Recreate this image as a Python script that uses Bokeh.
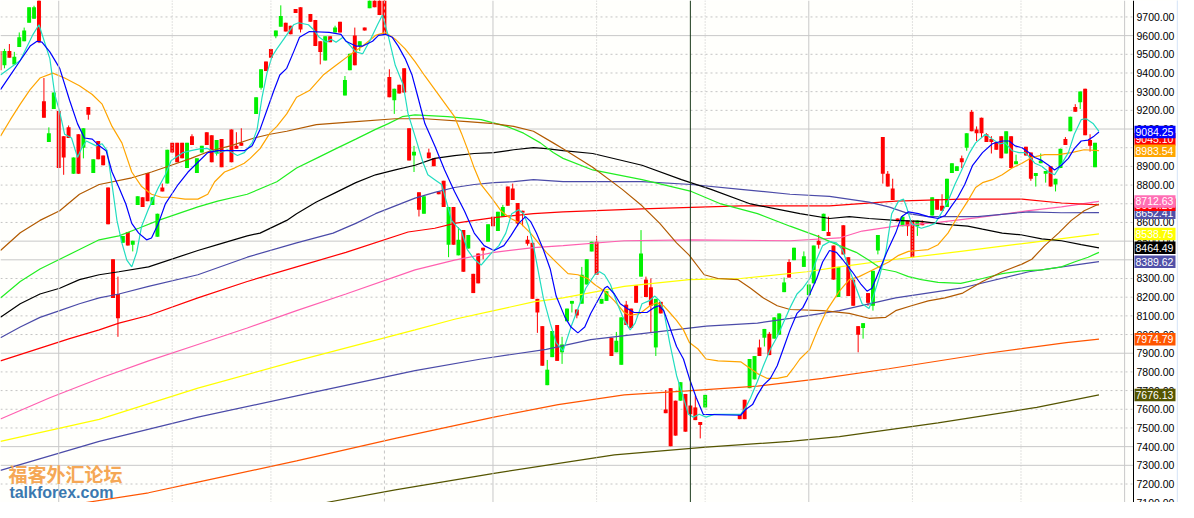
from bokeh.plotting import figure
from bokeh.models import Range1d, Span, Label, ColumnDataSource
from bokeh.core.properties import value
from bokeh.embed import file_html
from bokeh.resources import INLINE

# ---------------- candle data (day index, O/H/L/C) ----------------
day = (list(range(-1, 45)) + [46, 47, 48] + list(range(51, 61)) + list(range(62, 143))
       + list(range(149, 161)) + list(range(162, 187)) + list(range(188, 206)) + list(range(207, 222)))

open_ = [9518, 9441, 9518, 9446, 9539, 9570, 9669, 9690, 9800, 9249,
         9031, 9207, 9197, 9062, 9109, 8860, 9072, 9000, 9218, 8865,
         9036, 8958, 8787, 8403, 8217, 8491, 8549, 8481, 8694, 8735,
         8865, 8694, 8523, 8787, 8808, 9026, 9026, 9026, 8891, 9062,
         8865, 8974, 9083, 9067, 8969, 9046,
         9098, 9010, 9026, 9181, 9321, 9461, 9529, 9596, 9648, 9669,
         9653, 9742, 9752, 9716, 9684, 9570, 9467, 9596, 9617, 9674,
         9280, 9415, 9601, 9544, 9643, 9747, 9795, 9795, 9790, 9378,
         9254, 9337, 9425, 9104, 8958, 8761, 8647, 8974, 8943, 8766,
         8823, 8481, 8683, 8424, 8559, 8460, 8325, 8434, 8465, 8497,
         8631, 8554, 8631, 8792, 8782, 8704, 8663, 8507, 8491, 8191,
         8045, 7729, 7879, 8051, 7905, 8071, 8165, 8134, 8165, 8268,
         8445, 8497, 8165, 8180, 7983, 7905, 7838, 8160, 8139, 8263,
         8310, 8294, 8253, 7931, 8175, 7599, 7713, 7646, 7646, 7682,
         7620, 7610, 7532, 7610,
         7573, 7651, 7713, 7760, 7931, 7983, 8004, 7978, 7999, 8227,
         8388, 8398, 8362, 8211, 8274, 8502, 8554, 8549, 8476, 8201,
         8585, 8414, 8294, 8045, 8035, 8222, 8154, 8450, 9057, 8860,
         8782, 8621, 8580, 8611, 8611, 8580, 8600,
         8637, 8725, 8689, 8683, 8865, 8875, 8943, 9000, 9192, 9098,
         9161, 9072, 9046, 9031, 9062, 8969, 9062, 8912,
         9005, 8974, 8849, 8917, 8860, 8901, 8803, 8891, 9046, 9088,
         9218, 9244, 9316, 9041, 8896]

high = [9529, 9529, 9555, 9513, 9617, 9643, 9752, 9760, 9810, 9373,
        9109, 9295, 9197, 9062, 9119, 8948, 9072, 9104, 9218, 8938,
        9036, 8958, 8787, 8403, 8310, 8528, 8549, 8502, 8740, 8735,
        8865, 8735, 8647, 8808, 8989, 9026, 9026, 9026, 9026, 9072,
        8943, 9010, 9083, 9067, 9041, 9046,
        9098, 9083, 9104, 9270, 9420, 9461, 9529, 9627, 9762, 9669,
        9653, 9742, 9752, 9716, 9684, 9570, 9596, 9596, 9653, 9674,
        9384, 9503, 9643, 9570, 9643, 9790, 9800, 9800, 9800, 9420,
        9316, 9337, 9425, 9104, 9010, 8761, 8740, 8995, 8943, 8766,
        8823, 8683, 8683, 8574, 8559, 8533, 8325, 8434, 8465, 8590,
        8631, 8657, 8694, 8792, 8808, 8704, 8663, 8528, 8491, 8191,
        8045, 7864, 8019, 8051, 7988, 8139, 8180, 8134, 8362, 8403,
        8497, 8528, 8191, 8232, 7983, 8014, 8092, 8180, 8139, 8263,
        8559, 8310, 8300, 8191, 8175, 7703, 7713, 7646, 7745, 7682,
        7620, 7672, 7532, 7677,
        7573, 7651, 7869, 7885, 7973, 8030, 8014, 8092, 8113, 8305,
        8403, 8465, 8445, 8268, 8476, 8533, 8647, 8631, 8476, 8362,
        8585, 8414, 8294, 8045, 8061, 8222, 8341, 8533, 9057, 8875,
        8834, 8621, 8637, 8611, 8611, 8611, 8611,
        8735, 8725, 8751, 8834, 8917, 8901, 8958, 9078, 9202, 9114,
        9161, 9078, 9062, 9031, 9062, 9088, 9062, 8963,
        9005, 8974, 8865, 8969, 8875, 8901, 8834, 8995, 9057, 9166,
        9233, 9301, 9316, 9072, 9026]

low = [9404, 9425, 9482, 9446, 9539, 9570, 9669, 9690, 9560, 9161,
       9031, 9207, 8891, 8855, 9052, 8860, 8860, 8943, 9150, 8865,
       8938, 8906, 8590, 8196, 7988, 8491, 8476, 8445, 8694, 8683,
       8714, 8694, 8523, 8766, 8808, 8974, 8922, 8943, 8891, 9015,
       8865, 8974, 9015, 8922, 8958, 8896,
       8922, 8995, 9010, 9181, 9311, 9410, 9482, 9586, 9648, 9622,
       9607, 9721, 9617, 9674, 9544, 9446, 9467, 9565, 9617, 9617,
       9280, 9415, 9441, 9518, 9627, 9747, 9752, 9710, 9607, 9270,
       9181, 9290, 9295, 8932, 8870, 8632, 8647, 8943, 8901, 8751,
       8683, 8414, 8481, 8424, 8336, 8460, 8222, 8274, 8403, 8497,
       8580, 8554, 8631, 8689, 8720, 8580, 8580, 8476, 8191, 8009,
       7833, 7729, 7879, 7859, 7843, 8071, 8118, 8087, 8165, 8268,
       8445, 8320, 8165, 8180, 7885, 7905, 7838, 8051, 8035, 8170,
       8310, 8201, 8009, 7885, 8113, 7579, 7402, 7459, 7646, 7480,
       7573, 7542, 7444, 7610,
       7547, 7547, 7713, 7760, 7885, 7936, 7890, 7978, 7999, 8227,
       8305, 8398, 8362, 8211, 8274, 8460, 8554, 8528, 8294, 8201,
       8429, 8206, 8154, 7905, 7978, 8154, 8128, 8429, 8808, 8792,
       8720, 8606, 8580, 8528, 8414, 8528, 8585,
       8637, 8668, 8663, 8683, 8865, 8875, 8891, 8984, 9088, 9036,
       9052, 9031, 8969, 8989, 8943, 8969, 8891, 8912,
       8958, 8823, 8792, 8917, 8813, 8792, 8766, 8891, 9015, 9088,
       9192, 9207, 9067, 8979, 8896]

close = [9415, 9518, 9482, 9487, 9591, 9627, 9752, 9752, 9565, 9161,
         9078, 9295, 8891, 8948, 9052, 8948, 8860, 9104, 9176, 8938,
         8938, 8906, 8590, 8196, 8087, 8528, 8476, 8502, 8740, 8683,
         8714, 8735, 8647, 8766, 8989, 8974, 8922, 8943, 9026, 9015,
         8943, 9010, 9015, 8922, 9041, 8896,
         8922, 8995, 9010, 9270, 9420, 9410, 9482, 9627, 9705, 9622,
         9607, 9721, 9633, 9674, 9544, 9513, 9596, 9565, 9643, 9617,
         9363, 9503, 9441, 9570, 9627, 9788, 9752, 9710, 9607, 9270,
         9316, 9290, 9295, 8932, 8979, 8668, 8740, 8943, 8901, 8751,
         8683, 8683, 8481, 8507, 8336, 8533, 8222, 8274, 8450, 8590,
         8580, 8657, 8683, 8689, 8720, 8595, 8652, 8486, 8191, 8118,
         7833, 7812, 8019, 7859, 7947, 8139, 8180, 8102, 8320, 8403,
         8497, 8320, 8191, 8232, 7885, 7967, 8092, 8051, 8035, 8170,
         8434, 8201, 8154, 8191, 8113, 7579, 7402, 7459, 7745, 7480,
         7573, 7542, 7516, 7677,
         7547, 7547, 7869, 7885, 7885, 8030, 7890, 8092, 8113, 8279,
         8305, 8465, 8419, 8268, 8476, 8481, 8647, 8528, 8294, 8362,
         8429, 8206, 8154, 7999, 8061, 8170, 8341, 8533, 8860, 8792,
         8720, 8606, 8631, 8580, 8414, 8611, 8585,
         8735, 8668, 8663, 8834, 8917, 8901, 8922, 9078, 9088, 9078,
         9078, 9031, 9031, 8989, 8943, 9088, 8891, 8927,
         8958, 8834, 8865, 8932, 8875, 8792, 8834, 8995, 9015, 9166,
         9192, 9301, 9067, 9010, 9026]

# ---------------- moving average lines (day, value) ----------------
ma_cyan_day = [-0.8, 3.2, 5.8, 7.0, 9.2, 10.2, 11.2, 12.2, 13.6, 14.8,
               15.6, 16.6, 18.6, 19.8, 20.8, 21.8, 22.8, 23.8, 24.8, 25.8,
               26.8, 27.8, 29.2, 31.2, 32.6, 33.8, 36.2, 37.8, 39.8, 41.2,
               43.2, 45.2, 47.2, 48.6, 50.2, 51.2, 52.2, 53.2, 54.2, 55.2,
               56.6, 58.6, 59.6, 61.6, 62.6, 63.8, 65.2, 66.2, 67.2, 68.6,
               69.8, 71.2, 72.6, 74.2, 75.6, 76.6, 77.8, 79.2, 80.8, 81.8,
               83.2, 84.8, 85.8, 87.2, 88.6, 89.6, 90.6, 91.6, 92.6, 93.8,
               95.2, 96.6, 97.6, 98.8, 100.2, 101.6, 102.8, 104.2, 105.2, 106.2,
               107.2, 108.2, 109.2, 110.6, 111.8, 113.2, 114.8, 116.6, 117.8, 119.6,
               120.6, 121.6, 122.8, 124.2, 125.6, 126.8, 127.8, 129.2, 130.6, 131.8,
               132.8, 133.6, 134.8, 136.2, 137.6, 138.6, 139.6, 140.8, 142.2, 143.8,
               149.2, 150.2, 151.2, 152.6, 153.8, 155.2, 156.6, 157.8, 159.2, 160.6,
               161.8, 163.2, 164.6, 165.8, 167.2, 168.6, 169.8, 171.2, 172.6, 173.8,
               175.2, 175.8, 177.2, 178.6, 179.8, 181.2, 182.2, 182.8, 183.8, 184.8,
               185.8, 187.2, 188.6, 189.8, 191.2, 192.6, 193.8, 195.6, 196.8, 198.8,
               200.2, 201.6, 202.8, 204.2, 205.6, 206.8, 207.8, 208.8, 210.2, 211.6,
               212.8, 214.2, 215.6, 216.8, 218.2, 219.2, 220.6, 221.8]
ma_cyan_val = [9389, 9467, 9607, 9658, 9477, 9285, 9192, 9072, 9052, 8948,
               8995, 9036, 9010, 9021, 8984, 8803, 8611, 8491, 8398, 8362,
               8440, 8580, 8673, 8787, 8855, 8932, 8974, 8984, 8995, 8995,
               8969, 8989, 8958, 8974, 9026, 9098, 9270, 9399, 9487, 9529,
               9581, 9658, 9669, 9658, 9633, 9591, 9565, 9581, 9565, 9591,
               9555, 9513, 9503, 9581, 9658, 9710, 9596, 9441, 9337, 9181,
               9062, 8922, 8855, 8829, 8803, 8709, 8611, 8580, 8554, 8455,
               8403, 8372, 8403, 8440, 8476, 8543, 8647, 8668, 8647, 8580,
               8476, 8336, 8196, 8061, 7957, 7911, 8040, 8165, 8248, 8320,
               8336, 8320, 8268, 8165, 8076, 8025, 8061, 8165, 8180, 8206,
               8180, 8128, 7957, 7781, 7662, 7573, 7558, 7573, 7558, 7573,
               7573, 7610, 7662, 7750, 7833, 7921, 7988, 8061, 8144, 8217,
               8248, 8300, 8403, 8476, 8497, 8491, 8455, 8351, 8248, 8165,
               8139, 8180, 8300, 8440, 8647, 8714, 8725, 8683, 8595, 8580,
               8569, 8580, 8595, 8647, 8714, 8803, 8870, 8974, 9026, 9072,
               9046, 9021, 9026, 8984, 8974, 8974, 8948, 8917, 8901, 8870,
               8855, 8912, 8974, 9072, 9150, 9155, 9130, 9088]

ma_blue_day = [-0.8, 1.2, 3.2, 5.2, 6.6, 7.6, 9.2, 11.2, 13.2, 14.8,
               16.2, 17.8, 19.2, 20.6, 21.8, 23.2, 24.6, 25.8, 27.2, 28.8,
               29.8, 31.2, 32.6, 35.2, 37.2, 39.2, 41.2, 43.2, 48.6, 50.2,
               51.8, 53.2, 54.6, 55.8, 57.2, 58.6, 59.8, 61.8, 65.8, 68.2,
               69.2, 71.2, 72.6, 74.6, 75.8, 77.2, 78.6, 79.8, 81.2, 82.6,
               83.8, 85.2, 87.2, 89.2, 91.2, 93.2, 95.2, 97.2, 99.2, 101.2,
               102.6, 104.2, 105.6, 106.6, 107.8, 109.2, 110.6, 111.8, 113.6, 114.8,
               116.2, 117.6, 118.8, 120.2, 121.6, 122.2, 123.6, 124.8, 126.2, 127.6,
               130.2, 131.6, 132.6, 133.6, 134.8, 136.2, 137.6, 138.8, 140.2, 141.6,
               149.2, 150.2, 151.6, 152.6, 153.8, 155.2, 156.6, 157.8, 159.2, 160.6,
               161.8, 163.2, 164.6, 165.8, 167.2, 168.6, 169.8, 171.8, 173.6, 174.8,
               175.8, 177.2, 178.8, 180.6, 181.8, 183.2, 185.2, 187.2, 189.2, 190.6,
               191.8, 193.2, 194.6, 196.2, 198.2, 200.2, 202.2, 203.6, 204.8, 206.2,
               207.6, 208.8, 210.2, 211.6, 212.8, 214.2, 215.6, 216.8, 218.2, 219.6,
               220.8, 221.8]
ma_blue_val = [9311, 9389, 9467, 9544, 9570, 9565, 9513, 9425, 9254, 9129,
               9052, 9046, 9010, 8984, 8870, 8787, 8699, 8595, 8543, 8507,
               8517, 8595, 8699, 8803, 8870, 8922, 8974, 8984, 8984, 9010,
               9098, 9202, 9306, 9389, 9425, 9513, 9591, 9622, 9617, 9607,
               9570, 9544, 9544, 9570, 9601, 9607, 9591, 9544, 9477, 9389,
               9270, 9129, 9010, 8881, 8766, 8663, 8543, 8476, 8450, 8476,
               8528, 8595, 8631, 8606, 8543, 8455, 8351, 8206, 8092, 8040,
               8009, 8040, 8113, 8180, 8248, 8258, 8217, 8165, 8139, 8118,
               8118, 8144, 8154, 8128, 8040, 7936, 7869, 7765, 7662, 7573,
               7568, 7599, 7625, 7677, 7729, 7765, 7833, 7921, 8025, 8113,
               8144, 8217, 8300, 8388, 8450, 8440, 8403, 8336, 8268, 8232,
               8248, 8336, 8440, 8543, 8631, 8657, 8647, 8631, 8621, 8637,
               8683, 8735, 8803, 8906, 8974, 9021, 9036, 9036, 9010, 9000,
               8974, 8948, 8932, 8906, 8881, 8906, 8943, 8995, 9036, 9041,
               9062, 9084]

ma_orange_day = [-0.8, 1.2, 3.2, 5.2, 7.2, 9.8, 12.2, 15.2, 17.8, 19.8,
                 21.8, 23.8, 25.8, 27.8, 29.8, 31.8, 33.8, 36.6, 39.2, 41.2,
                 42.6, 44.6, 46.6, 48.6, 49.8, 51.8, 53.8, 55.2, 57.2, 59.2,
                 61.8, 64.6, 67.2, 69.8, 72.6, 75.2, 77.2, 79.2, 81.2, 83.2,
                 85.2, 91.2, 92.6, 93.8, 95.2, 96.6, 98.6, 100.6, 102.6, 104.6,
                 106.6, 108.2, 109.8, 111.8, 114.2, 116.2, 118.2, 119.6, 121.6, 123.6,
                 125.6, 126.8, 128.8, 130.8, 132.2, 133.6, 134.8, 136.2, 137.6, 138.8,
                 140.6, 142.2, 144.6, 149.2, 151.2, 152.6, 154.6, 156.6, 158.6, 159.8,
                 161.2, 163.2, 164.8, 166.6, 169.2, 171.2, 173.2, 175.2, 177.2, 179.2,
                 181.2, 183.2, 185.2, 187.2, 189.2, 191.2, 193.2, 195.2, 196.8, 198.2,
                 200.2, 202.2, 204.2, 206.2, 208.2, 210.8, 213.6, 216.2, 218.8, 221.8]
ma_orange_val = [9062, 9150, 9233, 9311, 9373, 9399, 9373, 9332, 9285, 9233,
                 9114, 9026, 8870, 8792, 8751, 8735, 8735, 8725, 8725, 8751,
                 8818, 8870, 8891, 8917, 8943, 8995, 9078, 9114, 9181, 9270,
                 9306, 9389, 9441, 9493, 9544, 9601, 9617, 9581, 9529, 9461,
                 9384, 9166, 9078, 8995, 8891, 8803, 8735, 8663, 8621, 8595,
                 8543, 8491, 8440, 8388, 8326, 8320, 8300, 8268, 8232, 8180,
                 8118, 8102, 8113, 8154, 8170, 8154, 8118, 8076, 8025, 7957,
                 7921, 7869, 7859, 7854, 7817, 7791, 7765, 7765, 7776, 7817,
                 7869, 7921, 8025, 8128, 8232, 8294, 8310, 8336, 8362, 8388,
                 8424, 8445, 8450, 8455, 8481, 8543, 8632, 8714, 8787, 8813,
                 8829, 8855, 8891, 8917, 8948, 8963, 8963, 8974, 8989, 8984]

ma_brown_day = [-0.8, 3.2, 7.2, 11.2, 15.2, 19.2, 25.8, 29.8, 33.8, 37.8,
                41.8, 45.8, 50.6, 53.8, 57.2, 63.2, 71.2, 79.2, 85.2, 93.8,
                99.2, 103.2, 107.2, 111.2, 113.2, 119.2, 125.2, 129.2, 132.8, 136.2,
                138.8, 141.8, 144.6, 148.6, 151.2, 153.8, 156.6, 159.2, 165.8, 171.2,
                175.2, 178.6, 180.6, 183.8, 187.2, 190.6, 194.2, 198.2, 202.2, 206.2,
                208.2, 210.8, 213.6, 216.2, 218.8, 221.8]
ma_brown_val = [8450, 8545, 8611, 8663, 8751, 8803, 8839, 8870, 8906, 8943,
                8984, 9010, 9052, 9072, 9088, 9124, 9140, 9155, 9155, 9140,
                9129, 9114, 9088, 9026, 8995, 8896, 8777, 8689, 8595, 8491,
                8424, 8320, 8300, 8294, 8248, 8196, 8154, 8134, 8128, 8113,
                8087, 8092, 8128, 8154, 8180, 8196, 8222, 8284, 8336, 8377,
                8403, 8476, 8543, 8611, 8663, 8699]

ma_green_day = [-0.8, 3.2, 7.2, 11.2, 15.2, 19.2, 23.2, 27.2, 31.2, 35.2,
                39.2, 43.2, 49.2, 55.2, 59.2, 63.2, 67.2, 71.2, 75.2, 77.8,
                80.6, 83.2, 89.8, 96.6, 101.8, 105.2, 108.6, 111.2, 113.2, 119.2,
                129.2, 139.2, 145.2, 152.6, 159.2, 164.6, 169.2, 172.6, 175.2, 177.8,
                180.6, 183.2, 185.8, 189.2, 193.8, 198.2, 202.2, 206.2, 210.2, 214.2,
                216.8, 219.6, 221.8]
ma_green_val = [8196, 8284, 8351, 8403, 8455, 8507, 8528, 8569, 8611, 8647,
                8683, 8714, 8751, 8818, 8891, 8943, 8995, 9046, 9098, 9129,
                9166, 9176, 9166, 9150, 9114, 9078, 9026, 8974, 8943, 8881,
                8829, 8766, 8699, 8647, 8580, 8528, 8476, 8440, 8398, 8351,
                8336, 8310, 8294, 8279, 8274, 8300, 8326, 8341, 8346, 8362,
                8388, 8414, 8440]

ma_black_day = [-0.8, 3.2, 7.2, 11.2, 15.2, 19.2, 23.2, 29.2, 39.2, 43.2,
                49.2, 51.8, 57.2, 59.2, 63.2, 67.2, 71.2, 75.2, 79.2, 83.2,
                87.2, 91.2, 95.2, 99.2, 103.2, 107.2, 109.8, 113.2, 119.2, 129.2,
                137.2, 143.2, 151.2, 161.2, 167.2, 171.2, 175.2, 180.6, 185.8, 190.6,
                195.2, 198.2, 202.2, 206.2, 210.2, 214.2, 218.2, 221.8]
ma_black_val = [8092, 8165, 8217, 8248, 8294, 8320, 8336, 8362, 8450, 8481,
                8528, 8543, 8611, 8647, 8709, 8761, 8813, 8855, 8881, 8906,
                8943, 8958, 8969, 8974, 8989, 9000, 8995, 8984, 8969, 8906,
                8829, 8777, 8699, 8647, 8621, 8631, 8621, 8611, 8606, 8590,
                8580, 8564, 8543, 8533, 8512, 8502, 8481, 8464]

ma_slate_day = [-0.8, 3.2, 7.2, 11.2, 15.2, 19.2, 23.2, 29.2, 39.2, 49.2,
                59.2, 66.6, 71.2, 75.2, 79.2, 83.2, 87.2, 91.2, 95.2, 99.2,
                103.2, 107.2, 113.2, 129.2, 139.2, 149.2, 159.2, 167.2, 175.2, 179.2,
                183.2, 187.2, 197.2, 207.6, 214.2, 221.8]
ma_slate_val = [7983, 8040, 8092, 8128, 8165, 8196, 8217, 8258, 8320, 8414,
                8491, 8543, 8595, 8647, 8689, 8730, 8761, 8787, 8803, 8813,
                8818, 8829, 8818, 8818, 8803, 8777, 8751, 8740, 8709, 8683,
                8647, 8631, 8631, 8657, 8652, 8653]

ma_red_day = [-0.8, 13.2, 19.2, 23.2, 29.2, 39.2, 49.2, 59.2, 69.2, 81.8,
              87.2, 91.2, 95.2, 99.2, 103.2, 107.2, 113.2, 129.2, 149.2, 167.2,
              180.6, 193.8, 206.2, 214.2, 221.8]
ma_red_val = [7859, 7978, 8025, 8061, 8102, 8196, 8284, 8362, 8440, 8549,
              8569, 8595, 8611, 8626, 8637, 8647, 8657, 8673, 8689, 8689,
              8714, 8725, 8725, 8704, 8694]

ma_pink_day = [-0.8, 9.2, 19.2, 29.2, 39.2, 49.2, 59.2, 69.2, 83.2, 91.2,
               99.2, 107.2, 113.2, 125.6, 139.2, 159.2, 169.2, 173.8, 180.6, 189.2,
               197.2, 207.6, 214.2, 221.8]
ma_pink_val = [7548, 7662, 7765, 7859, 7947, 8035, 8128, 8217, 8346, 8398,
               8440, 8465, 8476, 8502, 8507, 8502, 8517, 8554, 8580, 8600,
               8626, 8663, 8683, 8713]

ma_yellow_day = [-0.8, 19.2, 39.2, 59.2, 83.2, 91.2, 99.2, 107.2, 113.2, 125.6,
                 138.8, 149.2, 162.6, 169.2, 180.6, 193.8, 207.6, 221.8]
ma_yellow_val = [7428, 7546, 7713, 7859, 8025, 8082, 8128, 8175, 8196, 8258,
                 8294, 8300, 8336, 8362, 8403, 8445, 8491, 8539]

ma_navy_day = [-0.8, 19.2, 39.2, 59.2, 83.2, 96.6, 109.8, 118.8, 132.2, 142.2,
               152.6, 159.2, 169.2, 180.6, 193.8, 207.6, 216.8, 221.8]
ma_navy_val = [7273, 7428, 7558, 7672, 7807, 7869, 7921, 7973, 8014, 8045,
               8061, 8087, 8128, 8196, 8248, 8336, 8372, 8390]

ma_vermilion_day = [-0.8, 17.8, 29.2, 39.2, 59.2, 79.2, 99.2, 112.2, 125.6, 138.4,
                    152.6, 165.8, 179.2, 199.2, 215.2, 221.8]
ma_vermilion_val = [7029, 7106, 7153, 7210, 7324, 7444, 7558, 7625, 7677, 7698,
                    7724, 7765, 7817, 7900, 7957, 7975]

ma_olive_day = [59.2, 65.2, 79.2, 99.2, 123.6, 142.2, 159.2, 169.2, 189.2, 209.2, 221.8]
ma_olive_val = [7070, 7101, 7169, 7257, 7356, 7397, 7428, 7454, 7527, 7610, 7677]

# price scale tick labels
tick_values = list(range(7100, 9800, 100))

# price tags on the scale (value, background)
tag_values = [9045.10, 9084.25, 8983.54, 8652.41, 8694.20, 8712.63, 8538.75, 8464.49, 8389.62, 7974.79, 7676.13]
tag_colors = ["#FF0000", "#0000FF", "#FFA500", "#5050A8", "#FF0000", "#FF6EB4", "#FFFF00", "#000000", "#5050A8", "#FF5500", "#555500"]

# grid markers
vgrid_solid = [11, 99, 163, 227]
vgrid_dotted = [34, 54, 120, 142, 184, 206]
vgrid_dashed = [77]
hgrid_solid = [7300, 7400, 7900, 8400, 8500, 9100, 9600]
cursor_day = 139

assert len(day) == len(open_) == len(high) == len(low) == len(close)

# ---------------- layout ----------------
W, H = 1178, 502
X0, X_AXIS = -0.8, 228.8            # plot area (days) ; the scale sits to the right of X_AXIS
PLOT_PX = 1133                       # pixels of the plot area
X1 = X0 + (X_AXIS - X0) * W / PLOT_PX
Y0, Y1 = 7101, 9788
px_day = PLOT_PX / (X_AXIS - X0)     # pixels per day
px_val = H / (Y1 - Y0)               # pixels per price unit

p = figure(width=W, height=H, x_range=Range1d(X0, X1), y_range=Range1d(Y0, Y1),
           output_backend="svg", toolbar_location=None, x_axis_location=None,
           y_axis_location=None, min_border=0)
p.background_fill_color = "#FFFFFC"
p.border_fill_color = "#FFFFFF"
p.outline_line_color = None
p.xgrid.grid_line_color = None
p.ygrid.grid_line_color = None

# scale panel background
p.quad(left=[X_AXIS], right=[X1], bottom=[Y0], top=[Y1], fill_color="#FFFFFF", line_color=None)

# horizontal grid
dotted = [t for t in tick_values if t not in hgrid_solid]
p.segment(x0=[X0] * len(dotted), x1=[X_AXIS] * len(dotted), y0=dotted, y1=dotted,
          line_color="#C4C4C4", line_width=1, line_dash="2 3")
p.segment(x0=[X0] * len(hgrid_solid), x1=[X_AXIS] * len(hgrid_solid), y0=hgrid_solid, y1=hgrid_solid,
          line_color="#C8C8C8", line_width=1)

# vertical grid
for d in vgrid_solid:
    p.add_layout(Span(location=d, dimension="height", line_color="#C8C8C8", line_width=1))
for d in vgrid_dotted:
    p.add_layout(Span(location=d, dimension="height", line_color="#C4C4C4", line_width=1, line_dash="1 2"))
for d in vgrid_dashed:
    p.add_layout(Span(location=d, dimension="height", line_color="#C4C4C4", line_width=1, line_dash="3 3"))

# candles
top = [max(o, c) for o, c in zip(open_, close)]
bottom = [min(o, c) for o, c in zip(open_, close)]
colors = ["#00F000" if c >= o else "#FF0000" for o, c in zip(open_, close)]
src = ColumnDataSource(dict(day=day, high=high, low=low, top=top, bottom=bottom, color=colors))
p.segment(x0="day", y0="low", x1="day", y1="high", line_color="color", line_width=1, source=src)
p.vbar(x="day", width=0.8, top="top", bottom="bottom", fill_color="color", line_color=None, source=src)

# moving averages
lines = [
    (ma_olive_day, ma_olive_val, "#555500"),
    (ma_vermilion_day, ma_vermilion_val, "#FF5500"),
    (ma_navy_day, ma_navy_val, "#4B4BA8"),
    (ma_yellow_day, ma_yellow_val, "#FFFF00"),
    (ma_pink_day, ma_pink_val, "#FF60B0"),
    (ma_red_day, ma_red_val, "#FF0000"),
    (ma_slate_day, ma_slate_val, "#4B4BA8"),
    (ma_black_day, ma_black_val, "#000000"),
    (ma_green_day, ma_green_val, "#22EE22"),
    (ma_brown_day, ma_brown_val, "#B25A00"),
    (ma_orange_day, ma_orange_val, "#FFA500"),
    (ma_cyan_day, ma_cyan_val, "#22DDC0"),
    (ma_blue_day, ma_blue_val, "#0000FF"),
]
for xs, ys, col in lines:
    p.line(xs, ys, line_color=col, line_width=1.2)

# price scale labels
lab_x = X_AXIS + 3 / px_day
p.text(x=[lab_x] * len(tick_values), y=tick_values, text=["%.2f" % t for t in tick_values],
       text_font=value("Liberation Sans"), text_font_size="10.5px", text_color="#000000",
       text_align="left", text_baseline="middle")

# price tags
tag_h = 12.5 / px_val
tag_l = X_AXIS + 1 / px_day
tag_r = X_AXIS + 42 / px_day
for v, col in zip(tag_values, tag_colors):
    p.quad(left=[tag_l], right=[tag_r], bottom=[v - tag_h / 2], top=[v + tag_h / 2],
           fill_color=col, line_color=None)
    p.text(x=[X_AXIS + 2 / px_day], y=[v], text=["%.2f" % v],
           text_font=value("Liberation Sans"), text_font_size="10.5px", text_color="#FFFFFF",
           text_align="left", text_baseline="middle")

# scale line, cursor, right border
p.add_layout(Span(location=X_AXIS, dimension="height", line_color="#000000", line_width=1))
p.add_layout(Span(location=cursor_day, dimension="height", line_color="#1B3B1B", line_width=1))
p.add_layout(Span(location=X1 - 1.2 / px_day, dimension="height", line_color="#A9C6EE",
                  line_width=1, line_dash="1 1"))

# watermark
p.add_layout(Label(x=0.8, y=7257, text="福客外汇论坛", text_align="left", text_baseline="middle",
                   text_font="Noto Sans CJK SC", text_font_style="bold", text_font_size="19px",
                   text_color="#F5A755"))
p.add_layout(Label(x=1.0, y=7153, text="talkforex.com", text_align="left", text_baseline="middle",
                   text_font="Liberation Sans", text_font_style="bold", text_font_size="16px",
                   text_color="#3A78B0"))

open("out.html", "w").write(file_html(p, INLINE))
